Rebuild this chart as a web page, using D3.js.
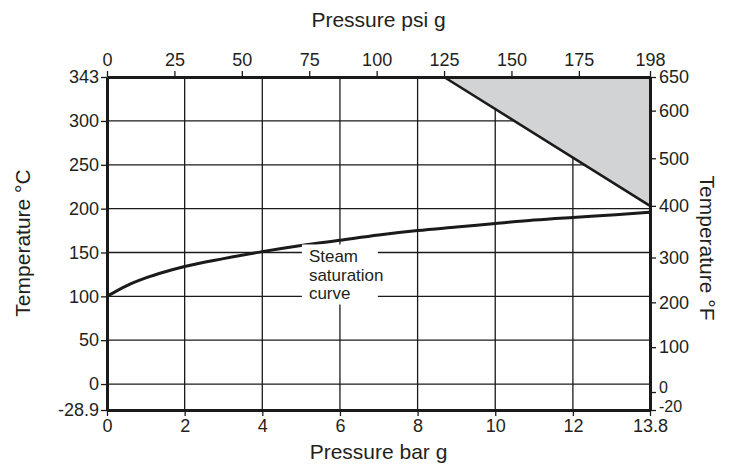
<!DOCTYPE html>
<html><head><meta charset="utf-8">
<script src="https://cdn.jsdelivr.net/npm/d3@7"></script>
<style>
body{margin:0;background:#fff;}
svg text{font-family:"Liberation Sans",Arial,Helvetica,sans-serif;fill:#231f20;}
</style></head><body><svg id="c" width="730" height="470"></svg>
<script>
// ---- data ----
const barTicks = [0, 2, 4, 6, 8, 10, 12, 13.8];
const psiTicks = [0, 25, 50, 75, 100, 125, 150, 175, 198];
const degCTicks = [-28.9, 0, 50, 100, 150, 200, 250, 300, 343];
const degFTicks = [-20, 0, 100, 200, 300, 400, 500, 600, 650];
const satBar  = [0, 0.5, 1, 1.5, 2, 3, 4, 5, 6, 7, 8, 9, 10, 11, 12, 13, 13.8];
const satTemp = [100, 112, 121, 128, 134, 143, 151, 158, 164, 170, 175, 179, 183, 187, 190, 193, 196];
const limitPsi = [125, 198, 198];
const limitF   = [650, 650, 400];
const labelLines = ["Steam", "saturation", "curve"];

// ---- layout ----
const m = {left: 107, top: 77};
const W = 543, H = 333;
const svg = d3.select("#c");
const g = svg.append("g").attr("transform", `translate(${m.left},${m.top})`);

const xBar = d3.scaleLinear().domain([0, 12, 13.8]).range([0, 0.858 * W, W]);
const xPsi = d3.scaleLinear().domain([0, 175, 198]).range([0, 0.869 * W, W]);
const yC = d3.scaleLinear().domain([-28.9, 0, 300, 343]).range([H, 0.922 * H, 0.132 * H, 0]);
const yF = d3.scaleLinear().domain([-20, 0, 300, 400, 600, 650])
  .range([H, 0.946 * H, 0.542 * H, 0.387 * H, 0.101 * H, 0]);

const ink = "#1a1a1a";
const tickFont = 18, titleFont = 21;

// gridlines
g.append("g").selectAll("line").data(barTicks.filter(d => d > 0 && d < 13.8)).join("line")
  .attr("x1", d => xBar(d)).attr("x2", d => xBar(d)).attr("y1", 0).attr("y2", H)
  .attr("stroke", ink).attr("stroke-width", 1.3);
g.append("g").selectAll("line").data(degCTicks.filter(d => d > -28.9 && d < 343)).join("line")
  .attr("x1", 0).attr("x2", W).attr("y1", d => yC(d)).attr("y2", d => yC(d))
  .attr("stroke", ink).attr("stroke-width", 1.3);

// shaded region
const limitPts = limitPsi.map((p, i) => [xPsi(p), yF(limitF[i])]);
g.append("path").attr("d", d3.line()(limitPts) + "Z").attr("fill", "#d1d3d4");
g.append("line")
  .attr("x1", xPsi(limitPsi[0])).attr("y1", yF(limitF[0]))
  .attr("x2", xPsi(limitPsi[2])).attr("y2", yF(limitF[2]))
  .attr("stroke", ink).attr("stroke-width", 2.6);

// saturation curve
const satPts = satBar.map((b, i) => [xBar(b), yC(satTemp[i])]);
g.append("path").attr("d", d3.line().curve(d3.curveMonotoneX)(satPts))
  .attr("fill", "none").attr("stroke", ink).attr("stroke-width", 3);

// label
const lx = xBar(5.2), ly = yC(150);
g.append("rect").attr("x", lx - 7).attr("y", ly - 8).attr("width", 76).attr("height", 60).attr("fill", "#fff");
g.append("text").attr("x", lx).attr("y", ly + 10).attr("font-size", 17)
  .selectAll("tspan").data(labelLines).join("tspan")
  .attr("x", lx).attr("dy", (d, i) => i === 0 ? 0 : 18.5).text(d => d);

// axes
const fmt = d => String(d);
function styleAxis(sel) {
  sel.attr("font-size", tickFont).attr("font-family", '"Liberation Sans",Arial,sans-serif');
  sel.selectAll(".domain").attr("stroke", ink).attr("stroke-width", 3);
  sel.selectAll(".tick line").attr("stroke", ink).attr("stroke-width", 1.3);
  sel.selectAll(".tick text").attr("fill", "#231f20");
}
g.append("g").call(d3.axisLeft(yC).tickValues(degCTicks).tickFormat(fmt).tickSize(6).tickSizeOuter(0).tickPadding(2)).call(styleAxis);
const rightAx = g.append("g").attr("transform", `translate(${W},0)`)
  .call(d3.axisRight(yF).tickValues(degFTicks).tickFormat(fmt).tickSize(6).tickSizeOuter(0).tickPadding(3)).call(styleAxis);
// the two lowest °F labels sit close together (and near "13.8"); keep them apart
rightAx.selectAll(".tick text").filter(d => d <= 0)
  .attr("font-size", 16).attr("y", d => d === -20 ? -4 : -5);
g.append("g").attr("transform", `translate(0,${H})`)
  .call(d3.axisBottom(xBar).tickValues(barTicks).tickFormat(fmt).tickSize(6).tickSizeOuter(0).tickPadding(3)).call(styleAxis);
g.append("g")
  .call(d3.axisTop(xPsi).tickValues(psiTicks).tickFormat(fmt).tickSize(6).tickSizeOuter(0).tickPadding(5)).call(styleAxis);

// axis titles
svg.append("text").attr("x", m.left + W / 2).attr("y", 27).attr("text-anchor", "middle")
  .attr("font-size", titleFont).text("Pressure psi g");
svg.append("text").attr("x", m.left + W / 2).attr("y", 459).attr("text-anchor", "middle")
  .attr("font-size", titleFont).text("Pressure bar g");
svg.append("text").attr("transform", `translate(30,${m.top + 166}) rotate(-90)`).attr("text-anchor", "middle")
  .attr("font-size", titleFont).text("Temperature °C");
svg.append("text").attr("transform", `translate(700,${m.top + 171}) rotate(90)`).attr("text-anchor", "middle")
  .attr("font-size", titleFont).text("Temperature °F");
</script></body></html>
